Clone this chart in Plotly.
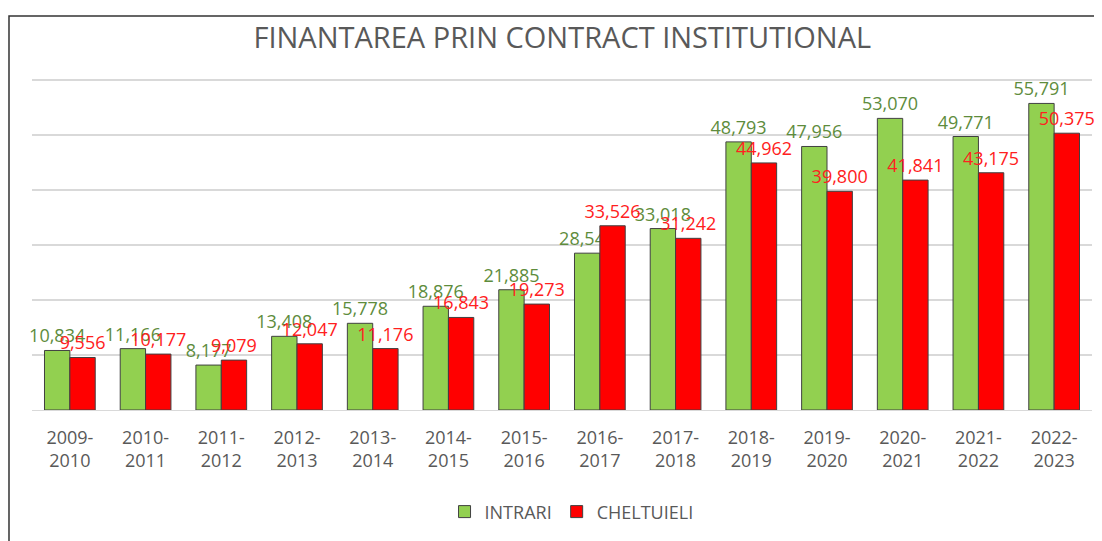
import plotly.graph_objects as go

categories = ["2009-<br>2010", "2010-<br>2011", "2011-<br>2012", "2012-<br>2013", "2013-<br>2014",
              "2014-<br>2015", "2015-<br>2016", "2016-<br>2017", "2017-<br>2018", "2018-<br>2019",
              "2019-<br>2020", "2020-<br>2021", "2021-<br>2022", "2022-<br>2023"]
intrari = [10834, 11166, 8177, 13408, 15778, 18876, 21885, 28542, 33018, 48793, 47956, 53070, 49771, 55791]
cheltuieli = [9556, 10177, 9079, 12047, 11176, 16843, 19273, 33526, 31242, 44962, 39800, 41841, 43175, 50375]

FONT = "Open Sans"
fig = go.Figure()
fig.add_trace(go.Bar(
    x=categories, y=intrari, name="INTRARI",
    marker=dict(color="#92D050", line=dict(color="#404040", width=1)),
    text=[f"{v:,}" for v in intrari], textposition="outside", cliponaxis=False,
    constraintext="none",
    textfont=dict(family=FONT, size=18, color="#5E8C3C"),
))
fig.add_trace(go.Bar(
    x=categories, y=cheltuieli, name="CHELTUIELI",
    marker=dict(color="#FF0000", line=dict(color="#404040", width=1)),
    text=[f"{v:,}" for v in cheltuieli], textposition="outside", cliponaxis=False,
    constraintext="none",
    textfont=dict(family=FONT, size=18, color="#FF2020"),
))

fig.update_layout(
    width=1102, height=541,
    margin=dict(l=24, r=18, t=69, b=139),
    paper_bgcolor="white", plot_bgcolor="white",
    barmode="group", bargap=0.33, bargroupgap=0,
    title=dict(text="FINANTAREA PRIN CONTRACT INSTITUTIONAL", x=0.503, xanchor="center",
               y=0.945, yanchor="middle", yref="container",
               font=dict(family=FONT, size=29, color="#595959")),
    legend=dict(orientation="h", x=0.509, xanchor="center", y=-0.306, yanchor="middle",
                font=dict(family=FONT, size=18, color="#595959"), itemwidth=30,
                traceorder="normal"),
    xaxis=dict(tickfont=dict(family=FONT, size=18, color="#595959"), showgrid=False,
               showline=True, linecolor="#D9D9D9", ticks="", ticklabelstandoff=11),
    yaxis=dict(range=[0, 60600], tickvals=[10000, 20000, 30000, 40000, 50000, 60000],
               showgrid=True, gridcolor="#D9D9D9", gridwidth=1.5,
               showticklabels=False, zeroline=False),
    shapes=[dict(type="rect", xref="paper", yref="paper", x0=-0.0217, x1=1.05, y0=-0.6, y1=1.183,
                 line=dict(color="#333333", width=1.5), fillcolor="rgba(0,0,0,0)", layer="below")],
    showlegend=True,
)
fig.write_html("out.html")
